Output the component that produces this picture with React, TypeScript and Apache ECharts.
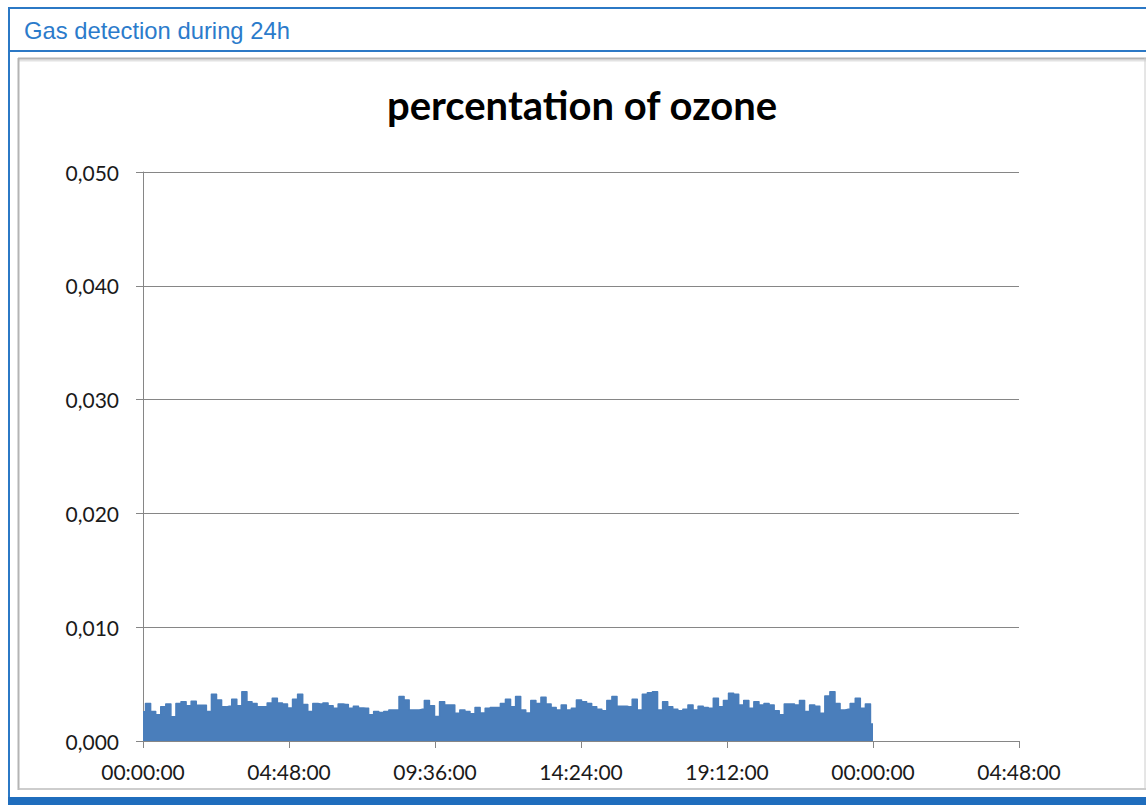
import React, { useEffect, useRef } from "react";
import * as echarts from "echarts";

// ---- data ----
const headerTitle = "Gas detection during 24h";
const chartTitle = "percentation of ozone";
const sampleStepMinutes = 10; // one reading every 10 minutes, 00:00 → 24:00
const ozoneValues = [
  0.00258, 0.0033, 0.0026, 0.0023, 0.003, 0.00325, 0.00214, 0.0033, 0.00345, 0.0031,
  0.0035, 0.00315, 0.00315, 0.0026, 0.0041, 0.0036, 0.003, 0.00305, 0.00366, 0.0031,
  0.00433, 0.00345, 0.0033, 0.003, 0.003, 0.00335, 0.00375, 0.00335, 0.00325,
  0.0029, 0.00366, 0.0041, 0.0032, 0.0026, 0.0033, 0.00325, 0.00335, 0.0031, 0.00287,
  0.00325, 0.0032, 0.00287, 0.00305, 0.0029, 0.00287, 0.0023, 0.0026, 0.0025, 0.0026,
  0.00272, 0.00272, 0.0039, 0.0036, 0.00272, 0.00272, 0.00278, 0.00355, 0.0031, 0.00215,
  0.00345, 0.00316, 0.00316, 0.00243, 0.00272, 0.0026, 0.0024, 0.00295, 0.00245, 0.00287,
  0.00295, 0.00295, 0.0033, 0.00366, 0.003, 0.0039, 0.00272, 0.00245, 0.00355, 0.0033,
  0.00385, 0.00325, 0.00295, 0.00272, 0.00316, 0.00272, 0.00287, 0.0036, 0.00345,
  0.0033, 0.003, 0.00278, 0.00266, 0.00355, 0.0039, 0.00305, 0.00305, 0.003, 0.00366,
  0.00272, 0.0041, 0.00425, 0.00433, 0.00272, 0.00345, 0.003, 0.00278, 0.00266, 0.00278,
  0.00316, 0.00272, 0.00305, 0.00295, 0.00287, 0.00375, 0.003, 0.00355, 0.0042,
  0.0041, 0.00316, 0.00355, 0.00287, 0.00345, 0.00316, 0.0033, 0.00316, 0.00266, 0.0023,
  0.00325, 0.00325, 0.00316, 0.00355, 0.0026, 0.00316, 0.00305, 0.00243, 0.00396, 0.00433,
  0.0033, 0.00272, 0.00278, 0.0033, 0.00375, 0.00287, 0.00325, 0.0015,
];
const xTickLabels = ["00:00:00", "04:48:00", "09:36:00", "14:24:00", "19:12:00", "00:00:00", "04:48:00"];
const xTickStepMinutes = 288;
const yMin = 0;
const yMax = 0.05;
const yInterval = 0.01;

const W = 1146;
const H = 805;

export default function App() {
  const ref = useRef<HTMLDivElement>(null);

  useEffect(() => {
    if (!ref.current) return;
    const chart = echarts.init(ref.current, null, { renderer: "svg", width: W, height: H });
    const seriesData = ozoneValues.map((v, i) => [i * sampleStepMinutes, v]);
    const blue = "#2b78c5";
    const axisGray = "#868686";
    const font = "Lato, 'Open Sans', sans-serif";

    chart.setOption({
      animation: false,
      backgroundColor: "#ffffff",
      grid: { left: 143, right: W - 1019, top: 172, bottom: H - 741, containLabel: false },
      xAxis: {
        type: "value",
        min: 0,
        max: xTickStepMinutes * (xTickLabels.length - 1),
        interval: xTickStepMinutes,
        axisLine: { show: true, lineStyle: { color: axisGray, width: 1 } },
        axisTick: { show: true, length: 7, lineStyle: { color: axisGray } },
        splitLine: { show: false },
        axisLabel: {
          margin: 20,
          color: "#1a1a1a",
          fontSize: 21,
          fontFamily: font,
          formatter: (v: number) => xTickLabels[Math.round(v / xTickStepMinutes)] ?? "",
        },
      },
      yAxis: {
        type: "value",
        min: yMin,
        max: yMax,
        interval: yInterval,
        axisLine: { show: true, lineStyle: { color: axisGray, width: 1 } },
        axisTick: { show: true, length: 7, lineStyle: { color: axisGray } },
        splitLine: { show: true, lineStyle: { color: axisGray, width: 1 } },
        axisLabel: {
          margin: 24,
          color: "#1a1a1a",
          fontSize: 21,
          fontFamily: font,
          formatter: (v: number) => v.toFixed(3).replace(".", ","),
        },
      },
      series: [
        {
          type: "line",
          data: seriesData,
          step: "middle",
          symbol: "none",
          lineStyle: { color: "#4a7ebb", width: 1.5, join: "round" },
          areaStyle: { color: "#4a7ebb", opacity: 1 },
          z: 3,
        },
      ],
      graphic: [
        // outer frame
        { type: "rect", z: -10, shape: { x: 9, y: 8, width: 1200, height: 795 }, style: { fill: "none", stroke: blue, lineWidth: 2 } },
        { type: "line", shape: { x1: 8, y1: 51, x2: W, y2: 51 }, style: { stroke: blue, lineWidth: 2 } },
        { type: "rect", shape: { x: 8, y: 797, width: W, height: 10 }, style: { fill: "#1f6dbd" } },
        {
          type: "text",
          x: 24,
          y: 30,
          style: {
            text: headerTitle,
            fill: "#2b7bcb",
            fontSize: 23.8,
            fontFamily: "'Liberation Sans', Arial, sans-serif",
            textVerticalAlign: "middle",
            textAlign: "left",
          },
        },
        // inner chart box
        { type: "line", shape: { x1: 18, y1: 60.5, x2: W, y2: 60.5 }, style: { stroke: "#e2e2e2", lineWidth: 2 } },
        { type: "line", shape: { x1: 18, y1: 58.5, x2: W, y2: 58.5 }, style: { stroke: "#b4b4b4", lineWidth: 2 } },
        { type: "line", shape: { x1: 18.5, y1: 58, x2: 18.5, y2: 790 }, style: { stroke: "#b4b4b4", lineWidth: 2 } },
        { type: "line", shape: { x1: 18, y1: 789, x2: W, y2: 789 }, style: { stroke: "#bdbdbd", lineWidth: 1.5 } },
        { type: "line", shape: { x1: 1145, y1: 58, x2: 1145, y2: 790 }, style: { stroke: "#cccccc", lineWidth: 1 } },
        {
          type: "text",
          x: 582,
          y: 105,
          style: {
            text: chartTitle,
            fill: "#000000",
            fontSize: 40,
            fontWeight: "bold",
            fontFamily: font,
            textAlign: "center",
            textVerticalAlign: "middle",
          },
        },
      ],
    });
    return () => chart.dispose();
  }, []);

  return (
    <div style={{ position: "fixed", left: 0, top: 0, width: W, height: H, overflow: "hidden", background: "#fff" }}>
      <div ref={ref} style={{ width: W, height: H }} />
    </div>
  );
}
